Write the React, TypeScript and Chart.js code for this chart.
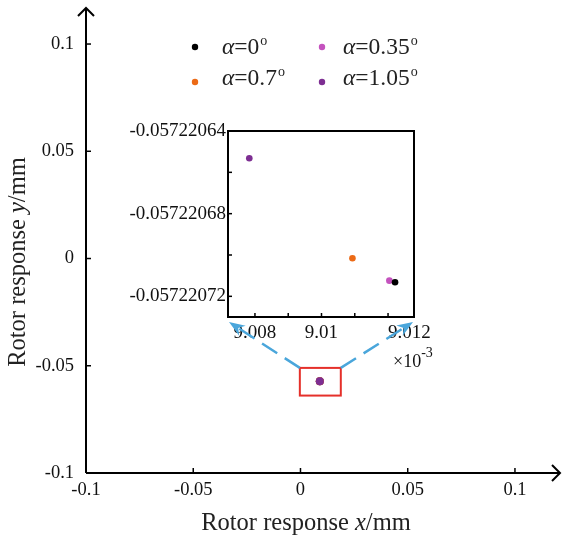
import React, { useEffect, useRef } from 'react';
import { Chart, registerables } from 'chart.js';

Chart.register(...registerables);

const SERIF = "'Liberation Serif', 'Times New Roman', serif";

// ---- data ----
const alphaLabels = ['0', '0.35', '0.7', '1.05'];
const seriesColors = ['#000000', '#C452BE', '#EC6A16', '#7D2E92'];
const responseXmm = [0.00901221, 0.00901204, 0.00901093, 0.00900783];
const responseYmm = [-0.0572207132, -0.0572207124, -0.0572207016, -0.0572206532];

const mainTicks = [-0.1, -0.05, 0, 0.05, 0.1];
const mainTickLabels = ['-0.1', '-0.05', '0', '0.05', '0.1'];
const mainXRange = [-0.1, 0.121];
const mainYRange = [-0.1, 0.1168];

const insetXTicks = [9.008, 9.009, 9.01, 9.011, 9.012]; // ×10^-3 mm
const insetXTickLabels = ['9.008', '', '9.01', '', '9.012'];
const insetYTicks = [-0.05722072, -0.0572207, -0.05722068, -0.05722066, -0.05722064];
const insetYTickLabels = ['-0.05722072', '', '-0.05722068', '', '-0.05722064'];
const insetXRange = [9.00719, 9.01278];
const insetYRange = [-0.05722073, -0.05722064];

const zoomBoxX = [-0.0003, 0.0188];
const zoomBoxY = [-0.0639, -0.051];

// ---- layout ----
const W = 565;
const H = 538;
const INSET_LEFT = 100;
const INSET_TOP = 115;
const INSET_W = 340;
const INSET_H = 270;

function labelFor(ticks: number[], labels: string[], v: number) {
  const i = ticks.findIndex((t) => Math.abs(t - v) < 1e-12);
  return i >= 0 ? labels[i] : '';
}

type Part = { text: string; italic?: boolean };
function drawRich(ctx: CanvasRenderingContext2D, parts: Part[], x: number, y: number, size: number, align: 'left' | 'center') {
  const widths = parts.map((p) => {
    ctx.font = `${p.italic ? 'italic ' : ''}${size}px ${SERIF}`;
    return ctx.measureText(p.text).width;
  });
  const total = widths.reduce((a, b) => a + b, 0);
  let cx = align === 'center' ? x - total / 2 : x;
  ctx.textAlign = 'left';
  parts.forEach((p, i) => {
    ctx.font = `${p.italic ? 'italic ' : ''}${size}px ${SERIF}`;
    ctx.fillText(p.text, cx, y);
    cx += widths[i];
  });
  return cx;
}

function line(ctx: CanvasRenderingContext2D, x1: number, y1: number, x2: number, y2: number) {
  ctx.beginPath();
  ctx.moveTo(x1, y1);
  ctx.lineTo(x2, y2);
  ctx.stroke();
}

function connector(ctx: CanvasRenderingContext2D, x0: number, y0: number, tx: number, ty: number) {
  const dx = tx - x0;
  const dy = ty - y0;
  const len = Math.hypot(dx, dy);
  const ux = dx / len;
  const uy = dy / len;
  const nx = -uy;
  const ny = ux;
  ctx.strokeStyle = '#4AA6DB';
  ctx.fillStyle = '#4AA6DB';
  ctx.lineWidth = 2.5;
  ctx.setLineDash([18, 9]);
  line(ctx, x0, y0, tx - ux * 10, ty - uy * 10);
  ctx.setLineDash([]);
  ctx.beginPath();
  ctx.moveTo(tx, ty);
  ctx.lineTo(tx - ux * 16 + nx * 6, ty - uy * 16 + ny * 6);
  ctx.lineTo(tx - ux * 11, ty - uy * 11);
  ctx.lineTo(tx - ux * 16 - nx * 6, ty - uy * 16 - ny * 6);
  ctx.closePath();
  ctx.fill();
}

export default function App() {
  const mainRef = useRef<HTMLCanvasElement | null>(null);
  const insetRef = useRef<HTMLCanvasElement | null>(null);

  useEffect(() => {
    if (!mainRef.current || !insetRef.current) return;

    // ---------- inset chart ----------
    const insetPlugin = {
      id: 'insetDecor',
      afterDraw(chart: any) {
        const { ctx, chartArea: ca, scales } = chart;
        const xs = scales.x;
        const ys = scales.y;
        ctx.save();
        ctx.strokeStyle = '#000';
        ctx.lineWidth = 2;
        ctx.strokeRect(ca.left, ca.top, ca.right - ca.left, ca.bottom - ca.top);
        ctx.lineWidth = 1.5;
        insetXTicks.forEach((v) => {
          const px = xs.getPixelForValue(v);
          line(ctx, px, ca.bottom, px, ca.bottom - 4);
        });
        insetYTicks.forEach((v) => {
          const py = ys.getPixelForValue(v);
          line(ctx, ca.left, py, ca.left + 4, py);
        });
        ctx.fillStyle = '#111';
        ctx.font = `19px ${SERIF}`;
        ctx.textBaseline = 'alphabetic';
        insetXTicks.forEach((v, i) => {
          const lab = insetXTickLabels[i];
          if (!lab) return;
          const px = xs.getPixelForValue(v);
          ctx.textAlign = i === insetXTicks.length - 1 ? 'left' : 'center';
          ctx.fillText(lab, px, ca.bottom + 21);
        });
        ctx.textAlign = 'left';
        ctx.font = `18px ${SERIF}`;
        const ex = ca.right - 21;
        ctx.fillText('×10', ex, ca.bottom + 50);
        const w = ctx.measureText('×10').width;
        ctx.font = `14px ${SERIF}`;
        ctx.fillText('-3', ex + w, ca.bottom + 40);
        ctx.restore();
      },
    };

    const insetChart = new Chart(insetRef.current, {
      type: 'scatter',
      data: {
        datasets: alphaLabels.map((a, i) => ({
          label: 'α=' + a + 'º',
          data: [{ x: responseXmm[i] * 1000, y: responseYmm[i] }],
          backgroundColor: seriesColors[i],
          borderColor: seriesColors[i],
          borderWidth: 0,
          pointRadius: 3.3,
        })),
      },
      options: {
        responsive: false,
        animation: false,
        devicePixelRatio: 1,
        events: [],
        layout: { padding: { top: 131 - INSET_TOP, right: INSET_LEFT + INSET_W - 414, left: 0, bottom: 0 } },
        plugins: { legend: { display: false }, tooltip: { enabled: false } },
        scales: {
          x: {
            type: 'linear',
            min: insetXRange[0],
            max: insetXRange[1],
            grid: { display: false, drawTicks: false },
            border: { display: false },
            ticks: { display: false },
            afterBuildTicks: (s: any) => {
              s.ticks = insetXTicks.map((v) => ({ value: v }));
            },
            afterFit: (s: any) => {
              s.height = INSET_H - (131 - INSET_TOP) - (317 - 131);
              s.paddingLeft = 0;
              s.paddingRight = 0;
            },
          },
          y: {
            type: 'linear',
            min: insetYRange[0],
            max: insetYRange[1],
            grid: { display: false, drawTicks: false },
            border: { display: false },
            ticks: {
              autoSkip: false,
              padding: 2,
              color: '#111',
              font: { family: SERIF, size: 19 },
              callback: (v: any) => labelFor(insetYTicks, insetYTickLabels, Number(v)),
            },
            afterBuildTicks: (s: any) => {
              s.ticks = insetYTicks.map((v) => ({ value: v }));
            },
            afterFit: (s: any) => {
              s.width = 228 - INSET_LEFT;
              s.paddingTop = 0;
              s.paddingBottom = 0;
            },
          },
        },
      },
      plugins: [insetPlugin],
    } as any);

    // ---------- main chart ----------
    const mainPlugin = {
      id: 'mainDecor',
      afterDraw(chart: any) {
        const { ctx, chartArea: ca, scales } = chart;
        const xs = scales.x;
        const ys = scales.y;
        ctx.save();
        ctx.strokeStyle = '#000';
        ctx.lineWidth = 2;
        // axes
        line(ctx, ca.left, ca.bottom, ca.left, ca.top);
        line(ctx, ca.left, ca.bottom, ca.right, ca.bottom);
        // arrow heads
        ctx.beginPath();
        ctx.moveTo(ca.left - 8, ca.top + 8);
        ctx.lineTo(ca.left, ca.top);
        ctx.lineTo(ca.left + 8, ca.top + 8);
        ctx.stroke();
        ctx.beginPath();
        ctx.moveTo(ca.right - 8, ca.bottom - 8);
        ctx.lineTo(ca.right, ca.bottom);
        ctx.lineTo(ca.right - 8, ca.bottom + 8);
        ctx.stroke();
        // inward ticks
        ctx.lineWidth = 1.5;
        mainTicks.forEach((v) => {
          const px = xs.getPixelForValue(v);
          line(ctx, px, ca.bottom, px, ca.bottom - 5);
          const py = ys.getPixelForValue(v);
          line(ctx, ca.left, py, ca.left + 5, py);
        });
        // zoom box
        const bx0 = xs.getPixelForValue(zoomBoxX[0]);
        const bx1 = xs.getPixelForValue(zoomBoxX[1]);
        const by0 = ys.getPixelForValue(zoomBoxY[1]);
        const by1 = ys.getPixelForValue(zoomBoxY[0]);
        ctx.strokeStyle = '#E5302A';
        ctx.lineWidth = 2;
        ctx.strokeRect(bx0, by0, bx1 - bx0, by1 - by0);
        // connectors
        const ia = insetChart.chartArea;
        if (ia) {
          connector(ctx, bx0, by0, INSET_LEFT + ia.left + 1, INSET_TOP + ia.bottom + 5);
          connector(ctx, bx1, by0, INSET_LEFT + ia.right - 1, INSET_TOP + ia.bottom + 5);
        }
        // legend
        const dotX = [195, 322];
        const textX = [222, 343];
        const dotY = [47, 82];
        const baseY = [54, 85];
        ctx.textBaseline = 'alphabetic';
        alphaLabels.forEach((a, i) => {
          const col = i % 2;
          const row = Math.floor(i / 2);
          ctx.fillStyle = seriesColors[i];
          ctx.beginPath();
          ctx.arc(dotX[col], dotY[row], 3.2, 0, Math.PI * 2);
          ctx.fill();
          ctx.fillStyle = '#222';
          const end = drawRich(ctx, [{ text: 'α', italic: true }, { text: '=' + a }], textX[col], baseY[row], 23.5, 'left');
          ctx.font = `14px ${SERIF}`;
          ctx.fillText('o', end + 1, baseY[row] - 9);
        });
        // axis titles
        ctx.fillStyle = '#222';
        drawRich(ctx, [{ text: 'Rotor response ' }, { text: 'x', italic: true }, { text: '/mm' }], 306, 530, 24.5, 'center');
        ctx.save();
        ctx.translate(25, 262);
        ctx.rotate(-Math.PI / 2);
        drawRich(ctx, [{ text: 'Rotor response ' }, { text: 'y', italic: true }, { text: '/mm' }], 0, 0, 24.5, 'center');
        ctx.restore();
        ctx.restore();
      },
    };

    const mainChart = new Chart(mainRef.current, {
      type: 'scatter',
      data: {
        datasets: alphaLabels.map((a, i) => ({
          label: 'α=' + a + 'º',
          data: [{ x: responseXmm[i], y: responseYmm[i] }],
          backgroundColor: seriesColors[i],
          borderColor: seriesColors[i],
          borderWidth: 0,
          pointRadius: 4,
          order: alphaLabels.length - 1 - i,
        })),
      },
      options: {
        responsive: false,
        animation: false,
        devicePixelRatio: 1,
        events: [],
        layout: { padding: { top: 8, right: 5, left: 0, bottom: 0 } },
        plugins: { legend: { display: false }, tooltip: { enabled: false } },
        scales: {
          x: {
            type: 'linear',
            min: mainXRange[0],
            max: mainXRange[1],
            grid: { display: false, drawTicks: false },
            border: { display: false },
            ticks: {
              autoSkip: false,
              maxRotation: 0,
              minRotation: 0,
              padding: 6,
              color: '#111',
              font: { family: SERIF, size: 18.5 },
              callback: (v: any) => labelFor(mainTicks, mainTickLabels, Number(v)),
            },
            afterBuildTicks: (s: any) => {
              s.ticks = mainTicks.map((v) => ({ value: v }));
            },
            afterFit: (s: any) => {
              s.height = 65;
              s.paddingLeft = 0;
              s.paddingRight = 0;
            },
          },
          y: {
            type: 'linear',
            min: mainYRange[0],
            max: mainYRange[1],
            grid: { display: false, drawTicks: false },
            border: { display: false },
            ticks: {
              autoSkip: false,
              padding: 12,
              color: '#111',
              font: { family: SERIF, size: 18.5 },
              callback: (v: any) => labelFor(mainTicks, mainTickLabels, Number(v)),
            },
            afterBuildTicks: (s: any) => {
              s.ticks = mainTicks.map((v) => ({ value: v }));
            },
            afterFit: (s: any) => {
              s.width = 86;
              s.paddingTop = 0;
              s.paddingBottom = 0;
            },
          },
        },
      },
      plugins: [mainPlugin],
    } as any);

    return () => {
      mainChart.destroy();
      insetChart.destroy();
    };
  }, []);

  return (
    <div style={{ position: 'absolute', left: 0, top: 0, width: W, height: H, background: '#fff' }}>
      <canvas
        ref={insetRef}
        width={INSET_W}
        height={INSET_H}
        style={{ position: 'absolute', left: INSET_LEFT, top: INSET_TOP, width: INSET_W, height: INSET_H }}
      />
      <canvas
        ref={mainRef}
        width={W}
        height={H}
        style={{ position: 'absolute', left: 0, top: 0, width: W, height: H }}
      />
    </div>
  );
}
